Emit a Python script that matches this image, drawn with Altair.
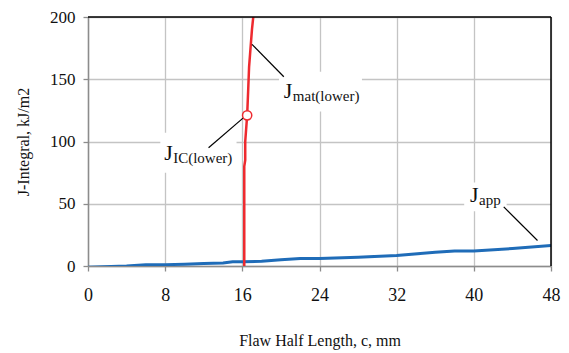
import altair as alt
import pandas as pd

# J_app curve (flaw half length c, mm ; J kJ/m2)
app_c = [0, 4, 6, 8, 10, 12, 14, 15, 16, 18, 19, 20, 22, 24, 28, 32, 36, 38, 40, 44, 48]
app_j = [-1, 0, 1, 1, 1.5, 2, 2.5, 3.5, 3.5, 3.8, 4.5, 5, 6, 6, 7, 8.5, 11, 12, 12, 14, 16.5]

# J_mat(lower) curve
mat_c = [16.2, 16.2, 16.3, 16.3, 16.5, 16.6, 16.7, 16.8, 17.0, 17.2]
mat_j = [0, 80, 85, 100, 121, 140, 160, 170, 190, 205]

# J_IC(lower) point
jic_c = [16.5]
jic_j = [121]

# annotations: main letter, subscript, text anchor, leader line, white box
ann_main = ["J", "J", "J"]
ann_sub = ["IC(lower)", "mat(lower)", "app"]
ann_x = [7.9, 20.3, 39.6]
ann_y = [85.5, 135, 51.5]
lead_x1 = [12.5, 20.3, 43.1]
lead_y1 = [95, 152, 47.5]
lead_x2 = [16.1, 17.0, 46.6]
lead_y2 = [119, 178, 20.5]
box_x1 = [7.5, 19.8, 39.0]
box_x2 = [15.4, 28.4, 43.4]
box_y1 = [75, 124, 44]
box_y2 = [107, 156, 67]

x_ticks = [0, 8, 16, 24, 32, 40, 48]
y_ticks = [0, 50, 100, 150, 200]

FONT = "Liberation Serif, Times New Roman, serif"

app_df = pd.DataFrame({"c": app_c, "j": app_j})
mat_df = pd.DataFrame({"c": mat_c, "j": mat_j})
jic_df = pd.DataFrame({"c": jic_c, "j": jic_j})
ann_df = pd.DataFrame({
    "main": ann_main, "sub": ann_sub, "x": ann_x, "y": ann_y,
    "lx1": lead_x1, "ly1": lead_y1, "lx2": lead_x2, "ly2": lead_y2,
    "bx1": box_x1, "bx2": box_x2, "by1": box_y1, "by2": box_y2,
})

xs = alt.Scale(domain=[0, 48], nice=False)
ys = alt.Scale(domain=[0, 200], nice=False)

x_axis = alt.Axis(values=x_ticks, title="Flaw Half Length, c, mm", grid=True,
                  labelPadding=15, titlePadding=28, tickSize=5, labelFlush=False,
                  labelFont=FONT, titleFont=FONT, labelFontSize=18, titleFontSize=16)
y_axis = alt.Axis(values=y_ticks, title="J-Integral, kJ/m2", grid=True,
                  labelPadding=8, titlePadding=18, tickSize=5, labelFlush=False,
                  labelFont=FONT, titleFont=FONT, labelFontSize=17, titleFontSize=16)

base_x = alt.X("c:Q", scale=xs, axis=x_axis)
base_y = alt.Y("j:Q", scale=ys, axis=y_axis)

boxes = alt.Chart(ann_df).mark_rect(color="white").encode(
    x=alt.X("bx1:Q", scale=xs), x2="bx2:Q",
    y=alt.Y("by1:Q", scale=ys), y2="by2:Q")

app_line = alt.Chart(app_df).mark_line(color="#1f6cb8", strokeWidth=3, clip=True).encode(
    x=base_x, y=base_y)

mat_line = alt.Chart(mat_df).mark_line(color="#ee2a2f", strokeWidth=2.5, clip=True).encode(
    x=alt.X("c:Q", scale=xs), y=alt.Y("j:Q", scale=ys), order=alt.Order("j:Q"))

jic_pt = alt.Chart(jic_df).mark_point(shape="circle", filled=True, fill="white",
                                      stroke="#ee2a2f", strokeWidth=1.5, size=85, opacity=1).encode(
    x=alt.X("c:Q", scale=xs), y=alt.Y("j:Q", scale=ys))

leaders = alt.Chart(ann_df).mark_rule(color="black", strokeWidth=1.2).encode(
    x=alt.X("lx1:Q", scale=xs), y=alt.Y("ly1:Q", scale=ys), x2="lx2:Q", y2="ly2:Q")

main_txt = alt.Chart(ann_df).mark_text(font=FONT, fontSize=22, align="left",
                                       baseline="alphabetic", color="#111").encode(
    x=alt.X("x:Q", scale=xs), y=alt.Y("y:Q", scale=ys), text="main:N")

sub_txt = alt.Chart(ann_df).mark_text(font=FONT, fontSize=15, align="left",
                                      baseline="alphabetic", color="#111", dx=9, dy=3).encode(
    x=alt.X("x:Q", scale=xs), y=alt.Y("y:Q", scale=ys), text="sub:N")

top_border = alt.Chart(pd.DataFrame({"v": [200]})).mark_rule(color="black", strokeWidth=1.5).encode(
    y=alt.Y("v:Q", scale=ys))
right_border = alt.Chart(pd.DataFrame({"v": [48]})).mark_rule(color="black", strokeWidth=1.5).encode(
    x=alt.X("v:Q", scale=xs))

chart = alt.layer(app_line, boxes, mat_line, leaders, jic_pt, main_txt, sub_txt,
                  top_border, right_border).properties(
    width=463, height=249,
    autosize=alt.AutoSizeParams(type="none"),
    padding={"left": 80, "top": 9, "right": 10, "bottom": 84},
).configure_view(stroke=None).configure_axis(
    labelColor="#111", titleColor="#111", titleFontWeight="normal",
    gridColor="#c4c4c4", gridWidth=1.3, domainColor="#8c8c8c", domainWidth=1.5,
    tickColor="#8c8c8c", tickWidth=1.3,
)

chart.save("out.html", embed_options={"renderer": "svg", "actions": False})
